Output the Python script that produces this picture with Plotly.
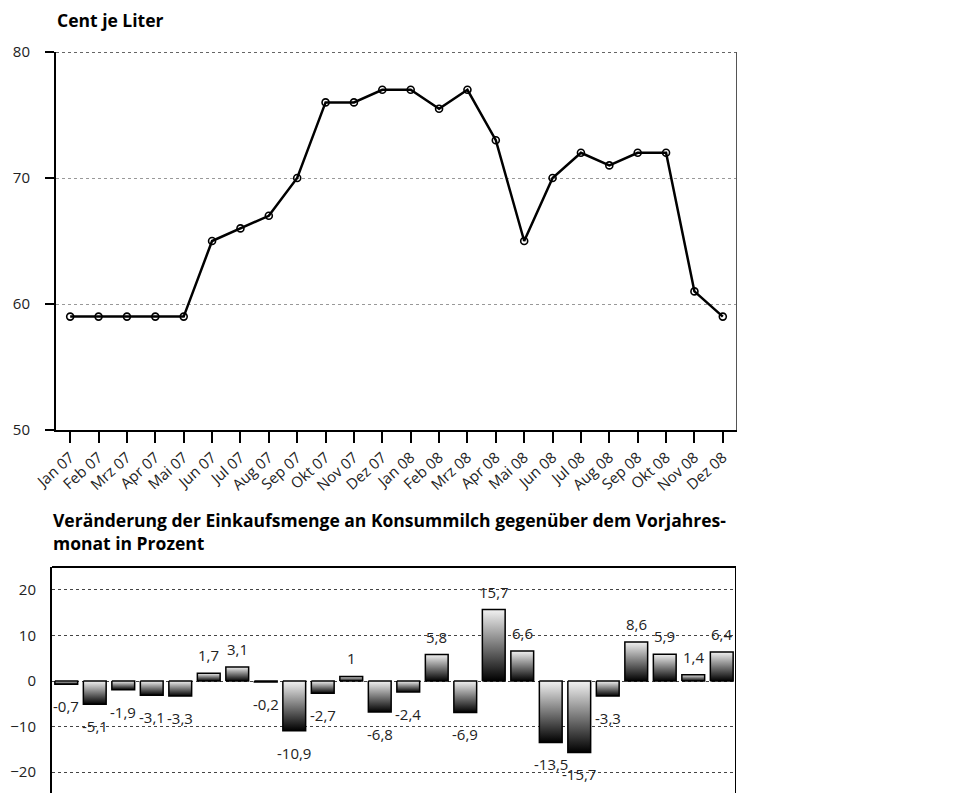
import plotly.graph_objects as go

# Monthly categories shared by both panels
months = ["Jan 07", "Feb 07", "Mrz 07", "Apr 07", "Mai 07", "Jun 07", "Jul 07", "Aug 07",
          "Sep 07", "Okt 07", "Nov 07", "Dez 07", "Jan 08", "Feb 08", "Mrz 08", "Apr 08",
          "Mai 08", "Jun 08", "Jul 08", "Aug 08", "Sep 08", "Okt 08", "Nov 08", "Dez 08"]

# Milk price, cents per litre
price = [59, 59, 59, 59, 59, 65, 66, 67, 70, 76, 76, 77,
         77, 75.5, 77, 73, 65, 70, 72, 71, 72, 72, 61, 59]

# Change in purchase volume vs. same month of previous year, percent
change = [-0.7, -5.1, -1.9, -3.1, -3.3, 1.7, 3.1, -0.2, -10.9, -2.7, 1, -6.8,
          -2.4, 5.8, -6.9, 15.7, 6.6, -13.5, -15.7, -3.3, 8.6, 5.9, 1.4, 6.4]

price_ticks = [50, 60, 70, 80]
change_ticks = [-20, -10, 0, 10, 20]

FONT = "Open Sans"
W, H = 957, 793

fig = go.Figure()

# --- upper panel: price line ---
fig.add_trace(go.Scatter(
    x=list(range(len(months))), y=price, mode="lines+markers",
    line=dict(color="black", width=2.5),
    marker=dict(symbol="circle-open", size=7, color="black", line=dict(width=1.6)),
    xaxis="x", yaxis="y", showlegend=False, hoverinfo="skip"))

# --- lower panel: gradient-filled bars (dark at the bottom, light at the top) ---
bw = 0.4
for i, v in enumerate(change):
    lo, hi = min(0, v), max(0, v)
    fig.add_trace(go.Scatter(
        x=[i - bw, i - bw, i + bw, i + bw, i - bw],
        y=[0, v, v, 0, 0],
        mode="lines", fill="toself",
        fillgradient=dict(type="vertical", start=lo, stop=hi,
                          colorscale=[[0, "#000000"], [1, "#f2f2f2"]]),
        line=dict(color="black", width=1.5),
        xaxis="x2", yaxis="y2", showlegend=False, hoverinfo="skip"))


def fmt(v):
    s = f"{v:g}"
    return s.replace(".", ",")


annotations = []
for i, v in enumerate(change):
    if v >= 0:
        annotations.append(dict(x=i, y=v, xref="x2", yref="y2", text=fmt(v),
                                showarrow=False, yanchor="bottom", yshift=6,
                                font=dict(family=FONT, size=15, color="#222")))
    else:
        annotations.append(dict(x=i, y=v, xref="x2", yref="y2", text=fmt(v),
                                showarrow=False, yanchor="top", yshift=-10,
                                font=dict(family=FONT, size=15, color="#222")))

# Panel titles
title_font = dict(family=FONT, size=17.5, color="black")
annotations.append(dict(x=55 / W, y=1 - 20 / H, xref="paper", yref="paper",
                        xanchor="left", yanchor="middle", showarrow=False,
                        text="<b>Cent je Liter</b>", font=title_font))
annotations.append(dict(x=51 / W, y=1 - 531 / H, xref="paper", yref="paper",
                        xanchor="left", yanchor="middle", showarrow=False, align="left",
                        text="<b>Veränderung der Einkaufsmenge an Konsummilch gegenüber dem Vorjahres-</b>"
                             "<br><b>monat in Prozent</b>",
                        font=title_font))

shapes = [
    # dashed top line of the upper panel
    dict(type="line", xref="x", yref="y", x0=-0.5, x1=23.5, y0=80, y1=80,
         line=dict(color="#333", width=1.5, dash="dot")),
    # right border of the upper panel
    dict(type="line", xref="x", yref="y", x0=23.5, x1=23.5, y0=50, y1=80,
         line=dict(color="#555", width=2)),
    # top and right border of the lower panel
    dict(type="line", xref="x2", yref="paper", x0=-0.5, x1=23.5,
         y0=1 - 567 / H, y1=1 - 567 / H, line=dict(color="black", width=2)),
    dict(type="line", xref="x2", yref="paper", x0=23.5, x1=23.5,
         y0=0, y1=1 - 567 / H, line=dict(color="black", width=2)),
]

fig.update_layout(
    width=W, height=H,
    margin=dict(l=0, r=0, t=0, b=0, autoexpand=False),
    paper_bgcolor="white", plot_bgcolor="white",
    font=dict(family=FONT, size=14, color="#222"),
    annotations=annotations, shapes=shapes,
    xaxis=dict(domain=[56 / W, 737 / W], range=[-0.5, 23.5], automargin=False,
               tickmode="array", tickvals=list(range(len(months))), ticktext=months,
               tickangle=-42, ticks="outside", ticklen=11, tickwidth=2, tickcolor="black",
               showline=True, linecolor="black", linewidth=2,
               showgrid=False, zeroline=False, anchor="y",
               tickfont=dict(family=FONT, size=15, color="#222")),
    yaxis=dict(domain=[1 - 430 / H, 1 - 52 / H], range=[50, 80], automargin=False,
               tickvals=price_ticks, ticks="outside", ticklen=9, tickwidth=2, tickcolor="black",
               showline=True, linecolor="black", linewidth=2,
               showgrid=True, gridcolor="#999", griddash="dot", gridwidth=1,
               zeroline=False, anchor="x", ticklabelstandoff=12,
               tickfont=dict(family=FONT, size=15, color="#222")),
    xaxis2=dict(domain=[52 / W, 736 / W], range=[-0.5, 23.5], automargin=False,
                showticklabels=False, ticks="", showline=False,
                showgrid=False, zeroline=False, anchor="y2"),
    yaxis2=dict(domain=[0, 1 - 567 / H], range=[-24.6, 25.05], automargin=False,
                tickvals=change_ticks, ticks="",
                showline=True, linecolor="black", linewidth=2,
                showgrid=True, gridcolor="#444", griddash="dot", gridwidth=1,
                zeroline=False, anchor="x2", ticklabelstandoff=11,
                tickfont=dict(family=FONT, size=15, color="#222")),
)

fig.write_html("out.html")
